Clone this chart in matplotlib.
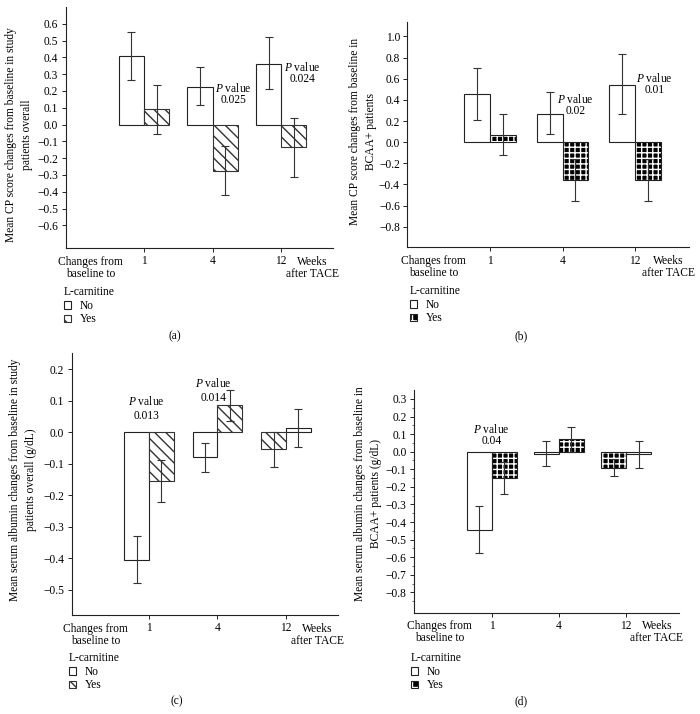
import matplotlib
matplotlib.use('Agg')
import matplotlib.pyplot as plt
import numpy as np
from matplotlib.patches import Patch

plt.rcParams['font.family'] = ['Liberation Serif', 'DejaVu Serif']
plt.rcParams['mathtext.fontset'] = 'custom'
plt.rcParams['mathtext.it'] = 'Liberation Serif:italic'
plt.rcParams['mathtext.rm'] = 'Liberation Serif'
plt.rcParams['hatch.linewidth'] = 1.0

# ---------------- data ----------------
weeks = ['1', '4', '12']
group_labels = ['No', 'Yes']

# (a) CP score, overall
a_no = [0.41, 0.225, 0.36]
a_no_lo = [0.265, 0.115, 0.21]
a_no_hi = [0.55, 0.34, 0.52]
a_yes = [0.09, -0.275, -0.135]
a_yes_lo = [-0.055, -0.42, -0.315]
a_yes_hi = [0.235, -0.125, 0.04]
a_p = ['', '0.025', '0.024']

# (b) CP score, BCAA+
b_no = [0.455, 0.27, 0.545]
b_no_lo = [0.205, 0.075, 0.265]
b_no_hi = [0.70, 0.47, 0.83]
b_yes = [0.07, -0.355, -0.355]
b_yes_lo = [-0.12, -0.555, -0.555]
b_yes_hi = [0.265, -0.155, -0.16]
b_p = ['', '0.02', '0.01']

# (c) serum albumin, overall
c_no = [-0.405, -0.08, 0.012]
c_no_lo = [-0.48, -0.127, -0.046]
c_no_hi = [-0.33, -0.034, 0.073]
c_yes = [-0.155, 0.085, -0.055]
c_yes_lo = [-0.222, 0.035, -0.11]
c_yes_hi = [-0.088, 0.135, 0.0]
c_p = ['0.013', '0.014', '']

# (d) serum albumin, BCAA+
d_no = [-0.445, -0.015, -0.015]
d_no_lo = [-0.575, -0.08, -0.09]
d_no_hi = [-0.31, 0.06, 0.06]
d_yes = [-0.15, 0.07, -0.09]
d_yes_lo = [-0.24, 0.0, -0.14]
d_yes_hi = [-0.06, 0.14, -0.04]
d_p = ['0.04', '', '']

EC = '#222222'
FS = 8.3
W, H = 700, 714

fig = plt.figure(figsize=(W / 100, H / 100), dpi=100)


def px_axes(l, t, r, b):
    return fig.add_axes([l / W, 1 - b / H, (r - l) / W, (b - t) / H])


def draw_bars(ax, xs, vals, style, w):
    if style == 'open':
        return ax.bar(xs, vals, w, facecolor='white', edgecolor=EC, lw=0.8, zorder=2)
    if style == 'diag':
        return ax.bar(xs, vals, w, facecolor='white', edgecolor='#333333',
                      hatch='\\' * 3, lw=0.8, zorder=2)
    ax.bar(xs, vals, w, facecolor='black', edgecolor='white', hatch='+++', lw=0, zorder=2)
    return ax.bar(xs, vals, w, facecolor='none', edgecolor=EC, lw=0.8, zorder=2.1)


panels = [
    dict(box=(65.7, 7, 333, 248), xlim=(-1.143, 2.759), w=0.365,
         ylim=(-0.735, 0.70), ticks=np.arange(-6, 7) / 10, minor=None,
         no=(a_no, a_no_lo, a_no_hi), yes=(a_yes, a_yes_lo, a_yes_hi), yes_left=[False, False, False],
         style='diag', p=a_p, p_xy=[None, (1.31, 0.181), (2.31, 0.306)], p_ls=0.95,
         ylabel='Mean CP score changes from baseline in study\npatients overall',
         ylab_xy=(19, 135), leg_xy=(64, 286), cap='(a)', cap_xy=(175, 336)),
    dict(box=(407.3, 21.7, 689, 247.3), xlim=(-1.141, 2.745), w=0.355,
         ylim=(-0.995, 1.14), ticks=np.arange(-4, 6) / 5, minor=None,
         no=(b_no, b_no_lo, b_no_hi), yes=(b_yes, b_yes_lo, b_yes_hi), yes_left=[False, False, False],
         style='check', p=b_p, p_xy=[None, (1.18, 0.35), (2.265, 0.552)], p_ls=0.95,
         ylabel='Mean CP score changes from baseline in\nBCAA+ patients',
         ylab_xy=(363, 131), leg_xy=(410, 285), cap='(b)', cap_xy=(520.7, 336)),
    dict(box=(71.7, 353.3, 338, 615), xlim=(-1.128, 2.759), w=0.36,
         ylim=(-0.58, 0.25), ticks=np.arange(-5, 3) / 10, minor=None,
         no=(c_no, c_no_lo, c_no_hi), yes=(c_yes, c_yes_lo, c_yes_hi), yes_left=[False, False, True],
         style='diag', p=c_p, p_xy=[(-0.04, 0.076), (0.94, 0.133), None], p_ls=1.2,
         ylabel='Mean serum albumin changes from baseline in study\npatients overall (g/dL)',
         ylab_xy=(23, 480), leg_xy=(69, 652), cap='(c)', cap_xy=(176.7, 701.7)),
    dict(box=(414, 390, 679.3, 612.7), xlim=(-1.156, 2.793), w=0.372,
         ylim=(-0.916, 0.351), ticks=np.arange(-8, 4) / 10, minor=np.arange(-17, 7) / 20,
         no=(d_no, d_no_lo, d_no_hi), yes=(d_yes, d_yes_lo, d_yes_hi), yes_left=[False, False, True],
         style='check', p=d_p, p_xy=[(0.0, 0.095), None, None], p_ls=0.95,
         ylabel='Mean serum albumin changes from baseline in\nBCAA+ patients (g/dL)',
         ylab_xy=(368, 494), leg_xy=(411, 652), cap='(d)', cap_xy=(520.7, 701.7)),
]

for P in panels:
    ax = px_axes(*P['box'])
    x = np.arange(len(weeks))
    w = P['w']
    sign = np.array([-1 if yl else 1 for yl in P['yes_left']])
    x_no = x - sign * w / 2
    x_yes = x + sign * w / 2

    no_v, no_lo, no_hi = [np.array(v) for v in P['no']]
    yes_v, yes_lo, yes_hi = [np.array(v) for v in P['yes']]

    h_no = draw_bars(ax, x_no, no_v, 'open', w)
    h_yes = draw_bars(ax, x_yes, yes_v, P['style'], w)

    for xs, v, lo, hi in ((x_no, no_v, no_lo, no_hi), (x_yes, yes_v, yes_lo, yes_hi)):
        ax.errorbar(xs, v, yerr=[v - lo, hi - v], fmt='none', ecolor='#333333',
                    elinewidth=0.8, capsize=2.8, capthick=0.8, zorder=3)

    ax.set_xlim(*P['xlim'])
    ax.set_ylim(*P['ylim'])
    ax.set_yticks(P['ticks'])
    ax.yaxis.set_major_formatter(matplotlib.ticker.FuncFormatter(
        lambda v, pos: ('%.1f' % v).replace('-', '\u2212') if abs(v) > 1e-9 else '0.0'))
    if P['minor'] is not None:
        ax.set_yticks(P['minor'], minor=True)
        ax.tick_params(axis='y', which='minor', length=1.8, width=0.6, color='#555555')
    ax.set_xticks(x)
    ax.set_xticklabels(weeks)
    ax.tick_params(axis='both', labelsize=FS, length=2.8, width=0.7, color=EC, pad=2.5)
    for s in ('top', 'right'):
        ax.spines[s].set_visible(False)
    for s in ('left', 'bottom'):
        ax.spines[s].set_linewidth(0.8)
        ax.spines[s].set_color(EC)

    # extra x-axis annotations
    ax.annotate('Changes from\nbaseline to', xy=(-0.78, 0), xycoords=('data', 'axes fraction'),
                xytext=(0, -5.5), textcoords='offset points', ha='center', va='top',
                fontsize=FS, linespacing=1.0)
    ax.annotate('Weeks\nafter TACE', xy=(2.46, 0), xycoords=('data', 'axes fraction'),
                xytext=(0, -5.5), textcoords='offset points', ha='center', va='top',
                fontsize=FS, linespacing=1.0)

    # p values
    for ptxt, pxy in zip(P['p'], P['p_xy']):
        if ptxt and pxy is not None:
            ax.text(pxy[0], pxy[1], '$P$ value\n' + ptxt, ha='center', va='center',
                    fontsize=FS, linespacing=P['p_ls'], multialignment='center', zorder=4)

    # y label
    fig.text(P['ylab_xy'][0] / W, 1 - P['ylab_xy'][1] / H, P['ylabel'], rotation=90,
             ha='center', va='center', fontsize=FS, multialignment='center', linespacing=1.4)

    # legend
    yes_handle = h_yes.patches[0]
    if P['style'] == 'check':
        yes_handle = (Patch(facecolor='black', edgecolor='white', hatch='++', lw=0),
                      Patch(facecolor='none', edgecolor=EC, lw=0.8))
    fig.legend([h_no.patches[0], yes_handle], group_labels, title='L-carnitine',
               loc='upper left',
               bbox_to_anchor=(P['leg_xy'][0] / W, 1 - P['leg_xy'][1] / H),
               bbox_transform=fig.transFigure, frameon=False, fontsize=FS,
               title_fontsize=FS, handlelength=0.65, handleheight=0.65,
               handletextpad=0.7, labelspacing=0.15, borderpad=0, borderaxespad=0,
               alignment='left')

    fig.text(P['cap_xy'][0] / W, 1 - P['cap_xy'][1] / H, P['cap'], ha='center',
             va='center', fontsize=FS)

fig.savefig('out.png', dpi=100)
